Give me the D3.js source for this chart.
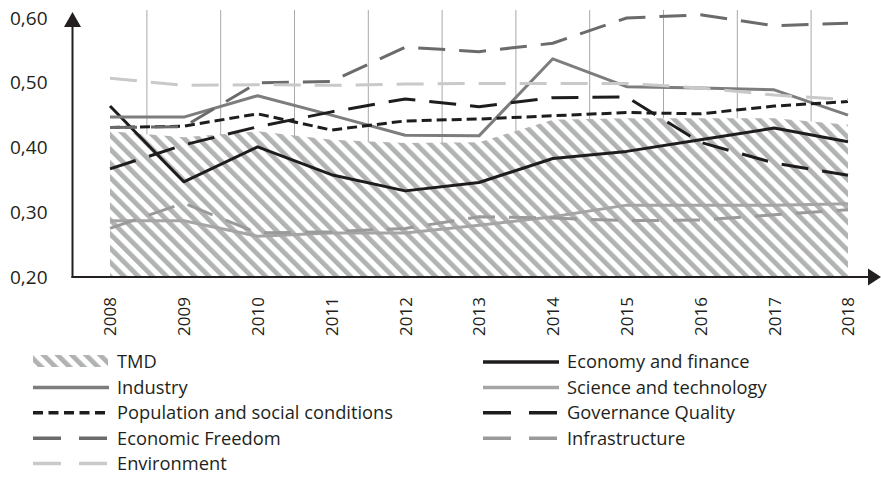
<!DOCTYPE html>
<html>
<head>
<meta charset="utf-8">
<script src="https://cdn.jsdelivr.net/npm/d3@7"></script>
<style>
  body { margin: 0; background: #fff; }
  text { font-family: "Open Sans", sans-serif; fill: #231f20; }
</style>
</head>
<body>
<div id="chart"></div>
<script>
// data
const years = ["2008", "2009", "2010", "2011", "2012", "2013", "2014", "2015", "2016", "2017", "2018"];
const yTicks = [0.2, 0.3, 0.4, 0.5, 0.6];

const tmd = [0.425, 0.416, 0.425, 0.412, 0.407, 0.408, 0.443, 0.445, 0.445, 0.445, 0.435];
const economy = [0.464, 0.347, 0.401, 0.358, 0.333, 0.346, 0.383, 0.394, 0.412, 0.430, 0.409];
const industry = [0.447, 0.447, 0.480, 0.450, 0.419, 0.418, 0.537, 0.494, 0.492, 0.489, 0.450];
const science = [0.287, 0.287, 0.263, 0.268, 0.268, 0.280, 0.293, 0.311, 0.311, 0.311, 0.313];
const population = [0.431, 0.433, 0.452, 0.427, 0.441, 0.444, 0.449, 0.454, 0.452, 0.464, 0.471];
const governance = [0.367, 0.404, 0.432, 0.455, 0.475, 0.463, 0.477, 0.478, 0.408, 0.376, 0.357];
const freedom = [0.431, 0.432, 0.500, 0.502, 0.555, 0.548, 0.561, 0.600, 0.605, 0.588, 0.592];
const infrastructure = [0.275, 0.314, 0.268, 0.270, 0.275, 0.293, 0.291, 0.287, 0.288, 0.296, 0.304];
const environment = [0.507, 0.496, 0.497, 0.496, 0.498, 0.499, 0.499, 0.499, 0.492, 0.481, 0.474];

const W = 881, H = 479;
const LONG = "27,14", SHORT = "10,5";

// series in excel order, later ones drawn on top
const series = [
  { name: "Economy and finance", values: economy, color: "#1f1c1d", dash: null },
  { name: "Industry", values: industry, color: "#7d7d7d", dash: null },
  { name: "Science and technology", values: science, color: "#a5a5a5", dash: null },
  { name: "Population and social conditions", values: population, color: "#1f1c1d", dash: SHORT },
  { name: "Governance Quality", values: governance, color: "#1f1c1d", dash: LONG },
  { name: "Economic Freedom", values: freedom, color: "#6b6b6b", dash: LONG },
  { name: "Infrastructure", values: infrastructure, color: "#9a9a9a", dash: LONG },
  { name: "Environment", values: environment, color: "#c9c9c9", dash: LONG }
];

const svg = d3.select("#chart").append("svg")
    .attr("width", W)
    .attr("height", H);

svg.append("rect").attr("width", W).attr("height", H).attr("fill", "#fff");

let defs = svg.append("defs");
let pat = defs.append("pattern")
    .attr("id", "hatch")
    .attr("patternUnits", "userSpaceOnUse")
    .attr("width", 10).attr("height", 10)
    .attr("patternTransform", "rotate(-45)");
pat.append("rect").attr("width", 10).attr("height", 10).attr("fill", "#fff");
pat.append("rect").attr("width", 4.8).attr("height", 10).attr("fill", "#b1b3b3");

let x = d3.scalePoint()
    .domain(years)
    .range([110, 848]);

let y = d3.scaleLinear()
    .domain([0.2, 0.6])
    .range([277, 18]);

const x0 = 72.5, yTop = 10;

// vertical gridlines between the years
let mids = years.slice(1).map((d, i) => (x(years[i]) + x(d)) / 2);
svg.append("g").selectAll("line").data(mids).enter()
    .append("line")
    .attr("x1", d => d).attr("x2", d => d)
    .attr("y1", yTop).attr("y2", y(0.2))
    .attr("stroke", "#a8a8a8")
    .attr("stroke-width", 1);

// TMD area
let area = d3.area()
    .x((d, i) => x(years[i]))
    .y0(y(0.2))
    .y1(d => y(d));

svg.append("path")
    .datum(tmd)
    .attr("d", area)
    .attr("fill", "url(#hatch)");

// lines
let line = d3.line()
    .x((d, i) => x(years[i]))
    .y(d => y(d));

svg.append("g").selectAll("path").data(series).enter()
    .append("path")
    .attr("d", d => line(d.values))
    .attr("fill", "none")
    .attr("stroke", d => d.color)
    .attr("stroke-width", 3)
    .attr("stroke-dasharray", d => d.dash)
    .attr("stroke-linejoin", "round");

// y axis labels
let yAxis = svg.append("g")
    .attr("transform", `translate(${x0},0)`)
    .call(d3.axisLeft(y).tickValues(yTicks).tickSize(0).tickPadding(25)
        .tickFormat(d => d3.format(".2f")(d).replace(".", ",")));
yAxis.select(".domain").remove();
yAxis.selectAll("text")
    .style("font-family", "Open Sans")
    .style("font-size", "19px")
    .attr("fill", "#231f20");

// x axis labels, rotated
let xAxis = svg.append("g")
    .attr("transform", `translate(0,${y(0.2)})`)
    .call(d3.axisBottom(x).tickSize(0));
xAxis.select(".domain").remove();
xAxis.selectAll("text")
    .attr("transform", "rotate(-90)")
    .attr("x", -20)
    .attr("y", 0)
    .attr("dy", "0.35em")
    .style("text-anchor", "end")
    .style("font-family", "Open Sans")
    .style("font-size", "17px")
    .attr("fill", "#231f20");

// axis lines with arrows
svg.append("line")
    .attr("x1", x0).attr("x2", x0)
    .attr("y1", y(0.2) + 1).attr("y2", 26)
    .attr("stroke", "#231f20").attr("stroke-width", 2);
svg.append("path")
    .attr("d", `M${x0 - 8.5},27L${x0},12L${x0 + 8.5},27Z`)
    .attr("fill", "#231f20");
svg.append("line")
    .attr("x1", x0 - 1).attr("x2", 869)
    .attr("y1", y(0.2)).attr("y2", y(0.2))
    .attr("stroke", "#231f20").attr("stroke-width", 2);
svg.append("path")
    .attr("d", `M868,${y(0.2) - 8.5}L881,${y(0.2)}L868,${y(0.2) + 8.5}Z`)
    .attr("fill", "#231f20");

// legend
let legendItems = [{ name: "TMD", area: true }].concat(series);
let legend = svg.append("g").selectAll("g").data(legendItems).enter()
    .append("g")
    .attr("transform", (d, i) => `translate(${i % 2 === 0 ? 33 : 483},${362 + Math.floor(i / 2) * 25.4})`);

legend.filter(d => d.area)
    .append("rect")
    .attr("x", 0).attr("y", -7)
    .attr("width", 75).attr("height", 12)
    .attr("fill", "url(#hatch)");

legend.filter(d => !d.area)
    .append("line")
    .attr("x1", 0).attr("x2", 76)
    .attr("y1", 0).attr("y2", 0)
    .attr("stroke", d => d.color)
    .attr("stroke-width", 3.5)
    .attr("stroke-dasharray", d => d.dash === LONG ? "28,18" : d.dash === SHORT ? "10,5.5" : null);

legend.append("text")
    .attr("x", 84)
    .attr("y", 0)
    .attr("dy", "0.35em")
    .style("font-size", "18.3px")
    .text(d => d.name);
</script>
</body>
</html>
